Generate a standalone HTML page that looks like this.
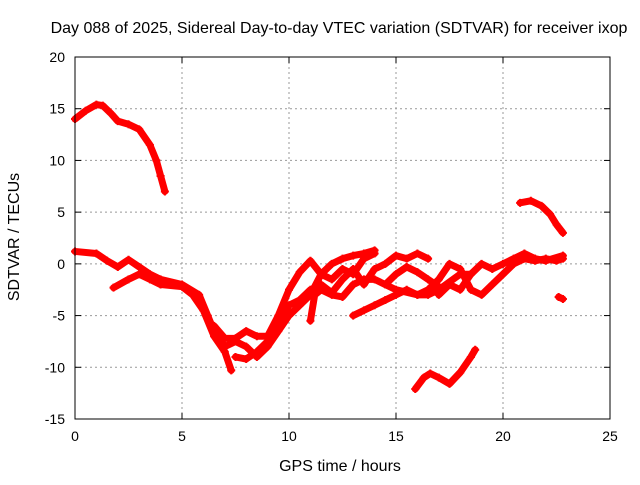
<!DOCTYPE html>
<html><head><meta charset="utf-8"><style>
body{margin:0;background:#fff;font-family:"Liberation Sans",sans-serif}
svg text{font-family:"Liberation Sans",sans-serif;font-size:14px;fill:#000}
svg text.big{font-size:16px}
</style></head><body>
<svg id="c" width="640" height="480">
<text class="big" x="339" y="33" text-anchor="middle">Day 088 of 2025, Sidereal Day-to-day VTEC variation (SDTVAR) for receiver ixop</text>
<text class="big" x="340" y="471" text-anchor="middle">GPS time / hours</text>
<text class="big" transform="translate(19,237) rotate(-90)" text-anchor="middle">SDTVAR / TECUs</text>
<g id="grid"></g><g id="data"></g>
<rect x="75" y="57" width="535" height="362" fill="none" stroke="#000"/>
</svg>
<script>
const xTicks=[0,5,10,15,20,25];
const yTicks=[-15,-10,-5,0,5,10,15,20];
const seriesA=[[0,14],[0.5,14.8],[1,15.4],[1.3,15.3],[1.7,14.5],[2,13.8],[2.5,13.5],[3,13],[3.5,11.5],[3.8,10],[4,8.5],[4.2,7]];
const seriesB=[[20.8,5.9],[21.3,6.1],[21.8,5.6],[22.2,4.8],[22.5,3.8],[22.8,3]];
const seriesC=[[15.9,-12.1],[16.3,-11],[16.6,-10.6],[17,-11],[17.5,-11.6],[18,-10.5],[18.5,-9],[18.7,-8.3]];
const seriesD=[[0,1.2],[1,1],[1.5,0.3],[2,-0.3],[2.5,0.4],[3,-0.3],[3.5,-1],[4,-1.5],[5,-2],[5.8,-3],[6.2,-5],[6.5,-6.5],[7,-8],[7.5,-7.5],[8,-8],[8.5,-9],[9,-8],[9.5,-6.5],[10,-5],[10.5,-4],[11,-3],[11.5,-1],[12,0],[12.5,0.5],[13,0.8],[13.5,1],[14,1.3]];
const seriesE=[[1.8,-2.3],[2.5,-1.5],[3,-1],[3.5,-1.5],[4,-2],[5,-2.2],[5.5,-3],[6,-4.5],[6.5,-7],[7,-8.5],[7.3,-10.3]];
const seriesF=[[6.5,-6],[7,-7.2],[7.5,-7.2],[8,-6.5],[8.5,-7],[9,-7],[9.5,-5],[10,-2.5],[10.5,-0.8],[11,0.3],[11.5,-1],[12,-1.5],[12.5,-0.5],[13,-1],[13.5,0.5],[14,1]];
const seriesG=[[7.5,-9],[8,-9.2],[8.5,-8.5],[9,-7.5],[9.5,-6],[10,-4],[10.5,-3.5],[11,-2.5],[11.5,-2],[12,-2.8],[12.5,-1.5],[13,-0.5],[13.5,-2],[14,-0.5],[14.5,0],[15,0.8],[15.5,0.5],[16,1],[16.5,0.5]];
const seriesH=[[11,-5.5],[11.2,-3],[11.5,-2.5],[12,-3],[12.5,-3.2],[13,-2],[13.5,-1.5],[14,-1.5],[15,-2.5],[16,-3],[16.5,-3],[17,-2.5],[18,-1],[18.5,-1]];
const seriesI=[[13,-5],[13.5,-4.5],[14,-4],[14.5,-3.5],[15,-3],[15.5,-2.5],[16,-3],[16.5,-2.5],[17,-1.5],[17.5,0],[18,-0.5],[18.5,-2.5],[19,-3],[19.5,-2],[20,-1],[20.5,0],[21,0.5],[21.5,0.3],[22,0.5],[22.5,0.3],[22.8,0.5]];
const seriesJ=[[17,-3],[17.5,-2],[18,-2.5],[18.5,-1],[19,0],[19.5,-0.5],[20,0],[20.5,0.5],[21,1],[21.5,0.5],[22,0.3],[22.8,0.8]];
const seriesK=[[14.5,-2],[15,-1],[15.5,-0.3],[16,-0.8],[16.5,-1.5],[17,-2.2]];
const seriesL=[[22.6,-3.2],[22.8,-3.4]];
const allSeries=[seriesA,seriesB,seriesC,seriesD,seriesE,seriesF,seriesG,seriesH,seriesI,seriesJ,seriesK,seriesL];
const X0=75,X1=610,Y0=419,Y1=57;
const sx=v=>X0+(v-0)/(25-0)*(X1-X0);
const sy=v=>Y0-(v+15)/(35)*(Y0-Y1);
const NS='http://www.w3.org/2000/svg';
const grid=document.getElementById('grid'),data=document.getElementById('data');
function mk(t,a,p){const e=document.createElementNS(NS,t);for(const k in a)e.setAttribute(k,a[k]);p.appendChild(e);return e;}
xTicks.forEach(t=>{const x=sx(t);
 if(t>0&&t<25){const l=mk('line',{x1:x,x2:x,y1:Y0,y2:Y1,stroke:'#999','stroke-dasharray':'2,3'},grid);
 
 }
 mk('line',{x1:x,x2:x,y1:Y0,y2:Y0-6,stroke:'#000'},grid);mk('line',{x1:x,x2:x,y1:Y1,y2:Y1+6,stroke:'#000'},grid);
 const tx=mk('text',{x:x,y:Y0+22,'text-anchor':'middle'},grid);tx.textContent=t;
 
 });
yTicks.forEach(t=>{const y=sy(t);
 if(t>-15&&t<20){const l=mk('line',{x1:X0,x2:X1,y1:y,y2:y,stroke:'#999','stroke-dasharray':'2,3'},grid);
 
 }
 mk('line',{x1:X0,x2:X0+6,y1:y,y2:y,stroke:'#000'},grid);mk('line',{x1:X1,x2:X1-6,y1:y,y2:y,stroke:'#000'},grid);
 const tx=mk('text',{x:X0-10,y:y+5,'text-anchor':'end'},grid);tx.textContent=t;
 
 });
allSeries.forEach((s,i)=>{
 const p=mk('polyline',{points:s.map(d=>sx(d[0])+','+sy(d[1])).join(' '),fill:'none',stroke:'#f00','stroke-width':7,'stroke-linejoin':'round','stroke-linecap':'round'},data);
 
 
 s.forEach(d=>{const x=sx(d[0]),y=sy(d[1]);
  const m=mk('path',{d:`M${x-4},${y}H${x+4}M${x},${y-4}V${y+4}`,stroke:'#f00','stroke-width':2},data);
  
  });
});
</script>
</body></html>
